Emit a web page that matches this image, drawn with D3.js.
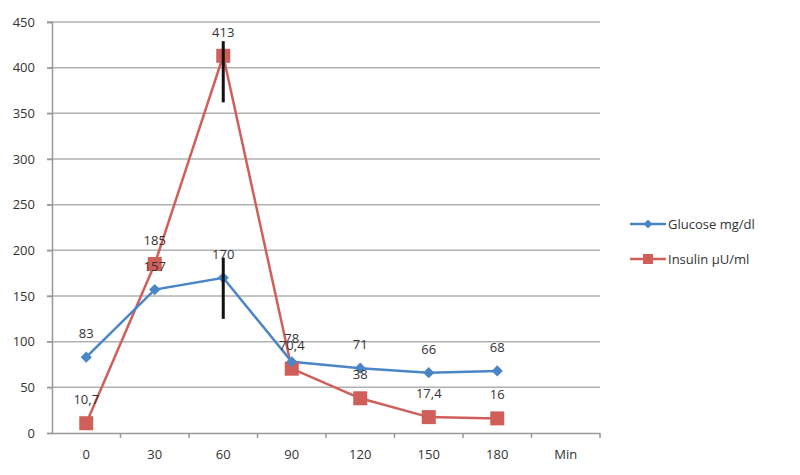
<!DOCTYPE html>
<html><head><meta charset="utf-8">
<script src="https://cdn.jsdelivr.net/npm/d3@7"></script>
<style>body{margin:0;background:#fff}</style>
</head><body><svg id="c" width="800" height="475"></svg>
<script>
const categories = ["0","30","60","90","120","150","180","Min"];
const glucose = [83,157,170,78,71,66,68];
const insulin = [10.7,185,413,70.4,38,17.4,16];
const glucoseLabels = ["83","157","170","78","71","66","68"];
const insulinLabels = ["10,7","185","413","70,4","38","17,4","16"];
// error bars at 60 min: [low, high]
const glucoseErr = [null,null,[125,192],null,null,null,null];
const insulinErr = [null,null,[362,429],null,null,null,null];
const yTicks = [0,50,100,150,200,250,300,350,400,450];
const seriesNames = ["Glucose mg/dl","Insulin µU/ml"];

const svg = d3.select("#c");
const font = "'Open Sans', sans-serif";
const x = d3.scaleBand().domain(categories).range([52,600]).padding(0);
const y = d3.scaleLinear().domain([0,450]).range([433,22]);
const cx = d => x(d) + x.bandwidth()/2;

// grid
svg.append("g").selectAll("line").data(yTicks.filter(t=>t>0)).join("line")
  .attr("x1",47).attr("x2",600).attr("y1",d=>y(d)).attr("y2",d=>y(d))
  .attr("stroke","#b0b0b0").attr("stroke-width",1.5);

// y axis
const ya = svg.append("g").attr("transform","translate(52,0)")
  .call(d3.axisLeft(y).tickValues(yTicks).tickSize(5).tickPadding(12));
ya.select(".domain").attr("stroke","#999").attr("stroke-width",1.5);
ya.selectAll(".tick line").attr("stroke","#999").attr("stroke-width",1.5);
ya.selectAll("text").attr("font-family",font).attr("font-size",13).attr("fill","#333");

// x axis
const xa = svg.append("g").attr("transform","translate(0,433)")
  .call(d3.axisBottom(x).tickSize(0).tickPadding(17));
xa.select(".domain").attr("stroke","#999").attr("stroke-width",1.5);
xa.selectAll("text").attr("font-family",font).attr("font-size",13).attr("fill","#333");
svg.append("g").selectAll("line").data(categories.slice(1).concat(["__end"])).join("line")
  .attr("x1",(d,i)=> 52 + (i+1)*x.bandwidth()).attr("x2",(d,i)=> 52 + (i+1)*x.bandwidth())
  .attr("y1",433).attr("y2",438).attr("stroke","#999").attr("stroke-width",1.5);

const blue = "#4a86c6", red = "#d05f5a";
const line = d3.line().x((d,i)=>cx(categories[i])).y(d=>y(d));

// insulin
svg.append("path").attr("d",line(insulin)).attr("fill","none").attr("stroke",red).attr("stroke-width",2.5);
svg.append("path").attr("d",line(glucose)).attr("fill","none").attr("stroke",blue).attr("stroke-width",2.5);

svg.append("g").selectAll("rect").data(insulin).join("rect")
  .attr("x",(d,i)=>cx(categories[i])-7).attr("y",d=>y(d)-7).attr("width",14).attr("height",14)
  .attr("fill",red);
svg.append("g").selectAll("path").data(glucose).join("path")
  .attr("d",d3.symbol(d3.symbolDiamond2,80)())
  .attr("transform",(d,i)=>`translate(${cx(categories[i])},${y(d)})`).attr("fill",blue);

// error bars
[insulinErr, glucoseErr].forEach(err=>{
  svg.append("g").selectAll("line").data(err.map((e,i)=>({e,i})).filter(o=>o.e)).join("line")
    .attr("x1",o=>cx(categories[o.i])).attr("x2",o=>cx(categories[o.i]))
    .attr("y1",o=>y(o.e[0])).attr("y2",o=>y(o.e[1])).attr("stroke","#111").attr("stroke-width",3);
});

// data labels
function labels(vals, labs){
  svg.append("g").selectAll("text").data(vals).join("text")
    .attr("x",(d,i)=>cx(categories[i])).attr("y",d=>y(d)-19)
    .attr("text-anchor","middle").attr("font-family",font).attr("font-size",13).attr("fill","#333")
    .text((d,i)=>labs[i]);
}
labels(glucose, glucoseLabels);
labels(insulin, insulinLabels);

// legend
const lg = svg.append("g");
[[blue,"d"],[red,"s"]].forEach((c,i)=>{
  const yy = 224 + i*35;
  lg.append("line").attr("x1",630).attr("x2",666).attr("y1",yy).attr("y2",yy).attr("stroke",c[0]).attr("stroke-width",2.5);
  if(c[1]==="d") lg.append("path").attr("d",d3.symbol(d3.symbolDiamond2,50)()).attr("transform",`translate(648,${yy})`).attr("fill",c[0]);
  else lg.append("rect").attr("x",643).attr("y",yy-5).attr("width",10).attr("height",10).attr("fill",c[0]);
  lg.append("text").attr("x",668).attr("y",yy+5).attr("font-family",font).attr("font-size",13).attr("fill","#333").text(seriesNames[i]);
});
</script></body></html>
